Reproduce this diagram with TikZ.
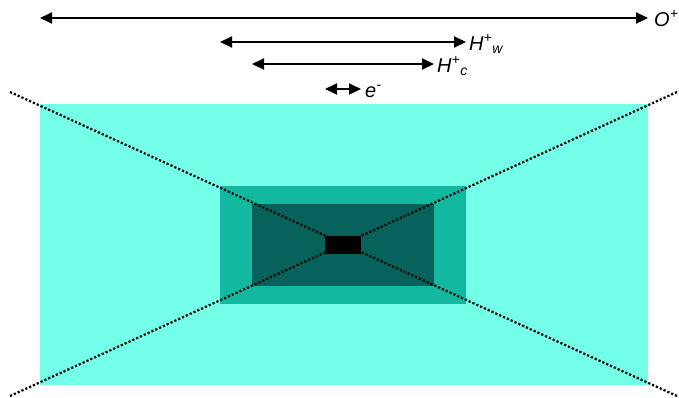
\documentclass[tikz,border=0pt]{standalone}
\usepackage{fontspec}
\setmainfont{Liberation Sans}
\usetikzlibrary{arrows.meta}
\definecolor{outerc}{RGB}{115,255,232}
\definecolor{midc}{RGB}{19,184,160}
\definecolor{innerc}{RGB}{6,98,90}
\tikzset{
  dim/.style={line width=2pt, {Triangle[length=12pt,width=11pt]}-{Triangle[length=12pt,width=11pt]}},
  lbl/.style={anchor=base west, inner sep=0pt, font=\fontsize{20}{20}\selectfont\itshape},
  diag/.style={line width=2.2pt, dash pattern=on 2.2pt off 2pt},
}
\begin{document}
\begin{tikzpicture}[x=1pt,y=-1pt]
\useasboundingbox (0,0) rectangle (679,397);
\fill[outerc] (40,104) rectangle (648,385);
\fill[midc] (220,186) rectangle (466,304);
\fill[innerc] (252,204) rectangle (434,286);
\coordinate (tl) at (10,92);
\coordinate (br) at (677,396);
\coordinate (tr) at (677,92);
\coordinate (bl) at (10,396);
\draw[diag] (tl) -- (br);
\draw[diag] (tr) -- (bl);
\fill[black] (325,236) rectangle (361,254);
\coordinate (o1) at (40,18); \coordinate (o2) at (648,18);
\coordinate (w1) at (220,42); \coordinate (w2) at (466,42);
\coordinate (c1) at (252,64); \coordinate (c2) at (434,64);
\coordinate (e1) at (325,89); \coordinate (e2) at (361,89);
\draw[dim] (o1) -- (o2);
\draw[dim] (w1) -- (w2);
\draw[dim] (c1) -- (c2);
\draw[dim] (e1) -- (e2);
\node[lbl] (lo) at (654,26) {O\textsuperscript{+}};
\node[lbl] (lw) at (469,50) {H\textsuperscript{+}\textsubscript{w}};
\node[lbl] (lc) at (437,72) {H\textsuperscript{+}\textsubscript{c}};
\node[lbl] (le) at (365,97) {e\textsuperscript{-}};
\end{tikzpicture}
\end{document}
